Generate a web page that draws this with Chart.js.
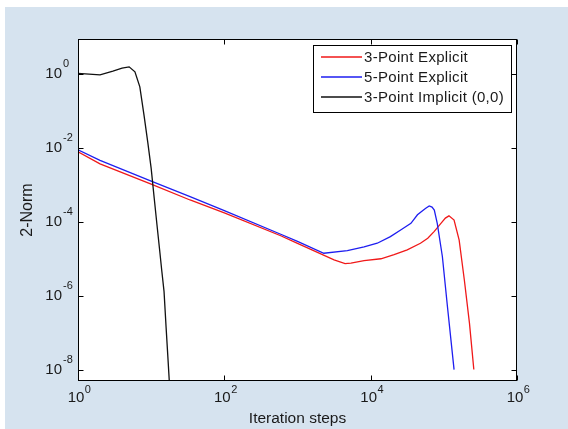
<!DOCTYPE html>
<html>
<head>
<meta charset="utf-8">
<script src="https://cdn.jsdelivr.net/npm/chart.js@4/dist/chart.umd.min.js"></script>
<style>
  html, body { margin: 0; padding: 0; background: #fff; }
  canvas { display: block; }
</style>
</head>
<body>
<canvas id="c" width="568" height="429"></canvas>
<script>
"use strict";

// values
const redX = [1, 2, 10, 34, 100, 590, 1000, 3160, 4470, 5370, 8130, 13800, 20900, 31600, 47900, 60300, 74100, 91200, 105000, 117500, 138000, 162000, 190500, 224000, 257000];
const redY = [7.9e-3, 3.7e-3, 1.05e-3, 3.9e-4, 1.74e-4, 4.2e-5, 2.6e-5, 9.3e-6, 7.4e-6, 7.6e-6, 8.9e-6, 1.0e-5, 1.29e-5, 1.74e-5, 2.63e-5, 3.6e-5, 5.5e-5, 9.1e-5, 1.26e-4, 1.45e-4, 1.12e-4, 3.2e-5, 2.7e-6, 1.8e-7, 1.0e-8];

const blueX = [1, 2, 10, 34, 100, 590, 1000, 2290, 4800, 8130, 12300, 18600, 25700, 35500, 43600, 56000, 63100, 69000, 74100, 81300, 95500, 112000, 138000];
const blueY = [8.9e-3, 4.6e-3, 1.26e-3, 4.8e-4, 2.0e-4, 4.6e-5, 2.95e-5, 1.41e-5, 1.66e-5, 2.09e-5, 2.63e-5, 3.98e-5, 6.0e-5, 9.1e-5, 1.55e-4, 2.3e-4, 2.69e-4, 2.5e-4, 2.09e-4, 9.1e-5, 1.15e-5, 5.1e-7, 1.0e-8];

const blackX = [1, 2, 3, 4, 5, 6, 7, 8, 9, 10, 11, 12, 13, 14, 15, 16, 17, 18];
const blackY = [1.05, 0.95, 1.2, 1.45, 1.57, 1.15, 0.45, 0.075, 0.014, 2.8e-3, 4.4e-4, 8.3e-5, 1.86e-5, 4.5e-6, 1.29e-6, 1.38e-7, 1.86e-8, 2.7e-9];

const seriesLabels = ["3-Point Explicit", "5-Point Explicit", "3-Point Implicit (0,0)"];
const seriesColors = ["rgb(240,25,25)", "rgb(30,30,240)", "#111111"];

// ticks are powers of ten, labels drawn as "10" with the exponent raised
const xTickValues = [1, 1e2, 1e4, 1e6];
const xTickExps = ["0", "2", "4", "6"];
const yTickValues = [1, 1e-2, 1e-4, 1e-6, 1e-8];
const yTickExps = ["0", "-2", "-4", "-6", "-8"];

const FONT = "'Liberation Sans', Arial, sans-serif";
const TXT = "#1a1a1a";
const $ = (id) => document.getElementById(id);
const pts = (xs, ys) => xs.map((x, i) => ({ x, y: ys[i] }));

const background = {
  id: "background",
  beforeDraw(chart) {
    const { ctx, width, height, chartArea: a } = chart;
    ctx.save();
    ctx.fillStyle = "#ffffff";
    ctx.fillRect(0, 0, width, height);
    ctx.fillStyle = "#d6e3ef";
    ctx.fillRect(5, 7, width - 5, height - 7);
    ctx.fillStyle = "#ffffff";
    ctx.fillRect(a.left, a.top, a.right - a.left, a.bottom - a.top);
    ctx.restore();
  },
};

// matlab style box, inward ticks on all four sides, 10^n tick labels
const axesBox = {
  id: "axesBox",
  afterDatasetsDraw(chart) {
    const { ctx, chartArea: a, scales } = chart;
    const L = Math.round(a.left) + 0.5, R = Math.round(a.right) - 0.5;
    const T = Math.round(a.top) + 0.5, B = Math.round(a.bottom) - 0.5;
    ctx.save();
    ctx.strokeStyle = "#000";
    ctx.lineWidth = 1;
    ctx.beginPath();
    scales.x.ticks.forEach((t) => {
      const px = Math.round(scales.x.getPixelForValue(t.value)) + 0.5;
      ctx.moveTo(px, B); ctx.lineTo(px, B - 5);
      ctx.moveTo(px, T); ctx.lineTo(px, T + 5);
    });
    scales.y.ticks.forEach((t) => {
      const py = Math.round(scales.y.getPixelForValue(t.value)) + 0.5;
      ctx.moveTo(L, py); ctx.lineTo(L + 5, py);
      ctx.moveTo(R, py); ctx.lineTo(R - 5, py);
    });
    ctx.stroke();
    ctx.strokeRect(L, T, R - L, B - T);

    ctx.fillStyle = TXT;
    ctx.textBaseline = "middle";
    scales.x.ticks.forEach((t, i) => {
      const px = scales.x.getPixelForValue(t.value) - 2;
      ctx.font = "15px " + FONT;
      ctx.textAlign = "center";
      ctx.fillText("10", px, a.bottom + 17);
      const w = ctx.measureText("10").width;
      ctx.font = "11px " + FONT;
      ctx.textAlign = "left";
      ctx.fillText(xTickExps[i], px + w / 2 + 0.5, a.bottom + 8.5);
    });
    scales.y.ticks.forEach((t, i) => {
      const py = scales.y.getPixelForValue(t.value);
      ctx.font = "15px " + FONT;
      ctx.textAlign = "right";
      ctx.fillText("10", 62, py);
      ctx.font = "11px " + FONT;
      ctx.textAlign = "left";
      ctx.fillText(yTickExps[i], 63, py - 10);
    });
    ctx.restore();
  },
};

const boxLegend = {
  id: "boxLegend",
  afterDraw(chart) {
    const { ctx } = chart;
    const x0 = 313, y0 = 45, w = 198, h = 67;
    ctx.save();
    ctx.fillStyle = "#fff";
    ctx.fillRect(x0, y0, w, h);
    ctx.strokeStyle = "#000";
    ctx.lineWidth = 1;
    ctx.strokeRect(x0 + 0.5, y0 + 0.5, w, h);
    ctx.font = "15px " + FONT;
    ctx.letterSpacing = "0.3px";
    ctx.textBaseline = "middle";
    ctx.textAlign = "left";
    chart.data.datasets.forEach((ds, i) => {
      const y = y0 + 12 + i * 20;
      ctx.strokeStyle = seriesColors[i];
      ctx.lineWidth = 1.4;
      ctx.beginPath();
      ctx.moveTo(321, y);
      ctx.lineTo(362, y);
      ctx.stroke();
      ctx.fillStyle = TXT;
      ctx.fillText(ds.label, 364, y + 1);
    });
    ctx.restore();
  },
};

new Chart($("c"), {
  type: "scatter",
  data: {
    datasets: [
      { label: seriesLabels[0], data: pts(redX, redY), borderColor: seriesColors[0], order: 3 },
      { label: seriesLabels[1], data: pts(blueX, blueY), borderColor: seriesColors[1], order: 2 },
      { label: seriesLabels[2], data: pts(blackX, blackY), borderColor: seriesColors[2], order: 1 },
    ].map((d) => Object.assign(d, { showLine: true, pointRadius: 0, borderWidth: 1.3, tension: 0 })),
  },
  options: {
    responsive: false,
    animation: false,
    layout: { padding: { top: 39, right: 51, left: 0, bottom: 0 } },
    plugins: { legend: { display: false }, tooltip: { enabled: false } },
    scales: {
      x: {
        type: "logarithmic", min: 1, max: 1e6,
        afterBuildTicks: (s) => { s.ticks = xTickValues.map((v) => ({ value: v })); },
        afterFit: (s) => { s.height = 48; },
        grid: { display: false, drawTicks: false },
        border: { display: false },
        ticks: { display: false },
        title: { display: true, text: "Iteration steps", color: TXT,
                 font: { family: FONT, size: 15.5 }, padding: { top: 0, bottom: 1 } },
      },
      y: {
        type: "logarithmic", min: 4.9e-9, max: 8.9,
        afterBuildTicks: (s) => { s.ticks = yTickValues.map((v) => ({ value: v })); },
        afterFit: (s) => { s.width = 78; },
        grid: { display: false, drawTicks: false },
        border: { display: false },
        ticks: { display: false },
        title: { display: true, text: "2-Norm", color: TXT,
                 font: { family: FONT, size: 16 }, padding: { top: 18, bottom: 0 } },
      },
    },
  },
  plugins: [background, axesBox, boxLegend],
});
</script>
</body>
</html>
